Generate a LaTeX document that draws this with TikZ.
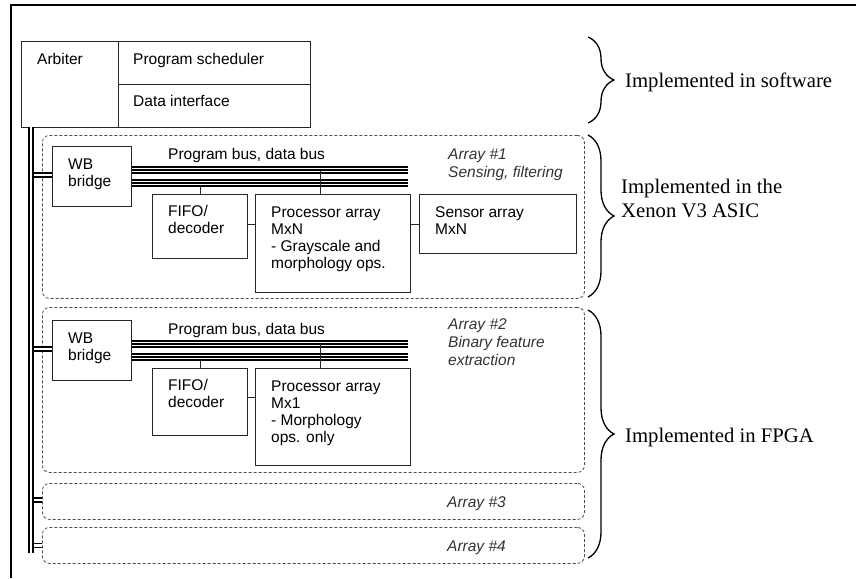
\documentclass[tikz,border=0pt]{standalone}
\usepackage{fontspec}
\setmainfont{Liberation Serif}
\newfontfamily\arialfam{Liberation Sans}
\usetikzlibrary{decorations.pathreplacing}
\newcommand\mlines[1]{\begin{tabular}[t]{@{}l@{}}#1\end{tabular}}
\begin{document}
\begin{tikzpicture}[x=1pt,y=-1pt,
  box/.style={draw=black!85, line width=0.9pt, anchor=north west, inner sep=0pt},
  arr/.style={draw=black!70, line width=0.8pt, dash pattern=on 3pt off 2pt, rounded corners=7pt, anchor=north west, inner sep=0pt},
  lbl/.style={anchor=base west, inner sep=0pt, font=\arialfam\fontsize{15.5}{17}\selectfont},
  ilbl/.style={anchor=base west, inner sep=0pt, font=\arialfam\itshape\fontsize{15.5}{18}\selectfont, text=black!80},
  note/.style={anchor=base west, inner sep=0pt, font=\fontsize{20.7}{24}\selectfont},
  bus/.style={draw=black, line width=7.8pt, postaction={draw=white, line width=4.8pt}, postaction={draw=black, line width=1.5pt}},
  vbus/.style={draw=black, line width=1.9pt, double=white, double distance=1.4pt},
  hbus/.style={draw=black, line width=1.3pt, double=white, double distance=2.6pt},
  wire/.style={draw=black!85, line width=0.9pt},
  brc/.style={draw=black, line width=1.3pt, decorate, decoration={brace, amplitude=26pt}},
]
\useasboundingbox (0,0) rectangle (856,578);
% outer frame
\coordinate (fbl) at (11,578);
\coordinate (ftl) at (11,5);
\coordinate (ftr) at (856,5);
\draw[line width=1.5pt] (fbl) -- (ftl) -- (ftr);

% software part
\node[box, minimum width=97pt, minimum height=86pt] (arb) at (21,41) {};
\node[box, minimum width=192pt, minimum height=43pt] (sched) at (118,41) {};
\node[box, minimum width=192pt, minimum height=43pt] (dif) at (118,84) {};
\node[lbl] (tarb) at (37,64) {Arbiter};
\node[lbl] (tsched) at (133,64) {Program scheduler};
\node[lbl] (tdif) at (133,106) {Data interface};

% arrays
\node[arr, minimum width=542pt, minimum height=163pt] (arr1) at (42,135) {};
\node[arr, minimum width=542pt, minimum height=165pt] (arr2) at (42,307) {};
\node[arr, minimum width=542pt, minimum height=36pt] (arr3) at (42,483) {};
\node[arr, minimum width=542pt, minimum height=36pt] (arr4) at (42,527) {};

% array 1 blocks
\node[box, minimum width=79pt, minimum height=60pt] (wb1) at (52,146) {};
\node[box, minimum width=95pt, minimum height=64pt] (fifo1) at (152,194) {};
\node[box, minimum width=155pt, minimum height=98pt] (proc1) at (255,194) {};
\node[box, minimum width=157pt, minimum height=59pt] (sens1) at (419,194) {};
\node[lbl] (twb1) at (68,169) {\mlines{WB\\bridge}};
\node[lbl] (tbus1) at (168,159) {Program bus, data bus};
\node[lbl] (tfifo1) at (168,216) {\mlines{FIFO/\\decoder}};
\node[lbl] (tproc1) at (271,217) {\mlines{Processor array\\MxN\\- Grayscale and\\morphology ops.}};
\node[lbl] (tsens1) at (435,217) {\mlines{Sensor array\\MxN}};
\node[ilbl] (tarr1) at (448,159) {\mlines{Array \#1\\Sensing, filtering}};

% array 2 blocks
\node[box, minimum width=79pt, minimum height=60pt] (wb2) at (52,320) {};
\node[box, minimum width=95pt, minimum height=67pt] (fifo2) at (152,368) {};
\node[box, minimum width=155pt, minimum height=97pt] (proc2) at (255,368) {};
\node[lbl] (twb2) at (68,343) {\mlines{WB\\bridge}};
\node[lbl] (tbus2) at (168,334) {Program bus, data bus};
\node[lbl] (tfifo2) at (168,390) {\mlines{FIFO/\\decoder}};
\node[lbl] (tproc2) at (271,391) {\mlines{Processor array\\Mx1\\- Morphology\\ops. only}};
\node[ilbl] (tarr2) at (448,329) {\mlines{Array \#2\\Binary feature\\extraction}};

\node[ilbl] (tarr3) at (447,507) {Array \#3};
\node[ilbl] (tarr4) at (447,551) {Array \#4};

% main vertical bus
\coordinate (bustop) at (31,127);
\coordinate (busbot) at (31,553);
\draw[vbus] (bustop) -- (busbot);
\coordinate (busr) at (33.5,0);
\draw[hbus] ([yshift=1.5pt]wb1.west) -- ([yshift=1.5pt]wb1.west -| busr);
\draw[hbus] ([yshift=1.5pt]wb2.west) -- ([yshift=1.5pt]wb2.west -| busr);
\draw[hbus] ([yshift=1.5pt]arr3.west) -- ([yshift=1.5pt]arr3.west -| busr);
\draw[hbus] (arr4.west) -- (arr4.west -| busr);

% array 1 buses
\coordinate (u1) at (408,170);
\coordinate (l1) at (408,183);
\coordinate (pt1) at (320,170);
\draw[wire] (fifo1.north) -- (fifo1.north |- l1);
\draw[bus] (wb1.east |- u1) -- (u1);
\draw[bus] (wb1.east |- l1) -- (l1);
\draw[wire] (pt1) -- (pt1 |- proc1.north);
\draw[wire] (fifo1.east |- sens1.west) -- (proc1.west |- sens1.west);
\draw[wire] (proc1.east |- sens1.west) -- (sens1.west);

% array 2 buses
\coordinate (u2) at (408,344);
\coordinate (l2) at (408,357);
\coordinate (pt2) at (320,344);
\draw[wire] (fifo2.north) -- (fifo2.north |- l2);
\draw[bus] (wb2.east |- u2) -- (u2);
\draw[bus] (wb2.east |- l2) -- (l2);
\draw[wire] (pt2) -- (pt2 |- proc2.north);
\draw[wire] ([yshift=4.5pt]fifo2.east) -- ([yshift=4.5pt]fifo2.east -| proc2.west);

% braces and notes
\coordinate (b1a) at (588,37);  \coordinate (b1b) at (588,123);
\coordinate (b2a) at (588,135); \coordinate (b2b) at (588,297);
\coordinate (b3a) at (588,310); \coordinate (b3b) at (588,558);
\draw[brc] (b1a) -- (b1b);
\draw[brc] (b2a) -- (b2b);
\draw[brc] (b3a) -- (b3b);
\node[note] (n1) at (625,87) {Implemented in software};
\node[note] (n2) at (621,193) {\begin{tabular}[t]{@{}l@{}}Implemented in the\\Xenon V3 ASIC\end{tabular}};
\node[note] (n3) at (625,442) {Implemented in FPGA};
\end{tikzpicture}
\end{document}
